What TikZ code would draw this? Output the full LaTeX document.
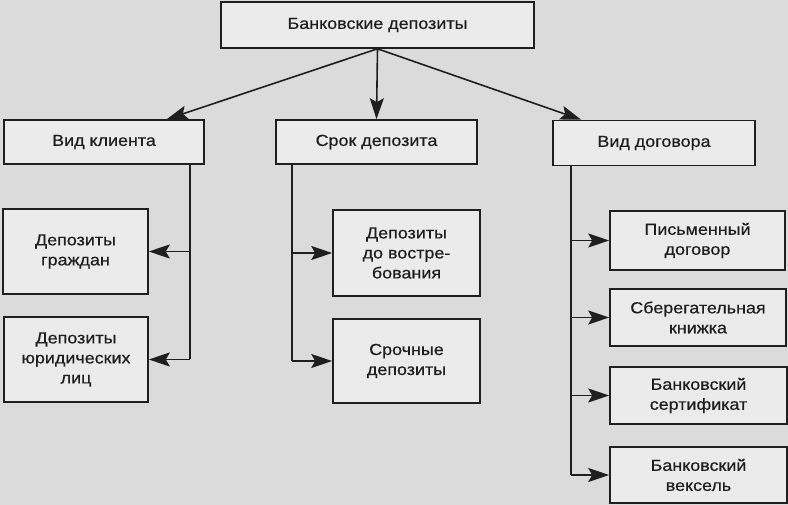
\documentclass[tikz,border=0pt]{standalone}
\usepackage{fontspec}
\setmainfont[FakeStretch=1.12,FakeBold=0.6]{Liberation Sans}
\usetikzlibrary{arrows.meta}
\definecolor{bg}{gray}{0.86}
\definecolor{boxfill}{gray}{0.92}
\definecolor{ink}{gray}{0.12}
\tikzset{
  box/.style={draw=ink, fill=boxfill, line width=1.6pt, inner sep=0pt, align=center,
    font=\fontsize{16pt}{20pt}\selectfont, text=ink},
  conn/.style={draw=ink, line width=1.6pt},
  arr/.style={conn, arrows={-Stealth[length=21pt,width=14pt,inset=4pt]}}
}
\begin{document}
\begin{tikzpicture}[x=1pt,y=-1pt]
\fill[bg] (0,0) rectangle (788,505);
\useasboundingbox (0,0) rectangle (788,505);
\node[box, minimum width=313, minimum height=46] (top) at (377.5,25) {Банковские депозиты};
\node[box, minimum width=200, minimum height=44] (kl) at (104,142) {Вид клиента};
\node[box, minimum width=201, minimum height=44] (srok) at (376.5,142) {Срок депозита};
\node[box, minimum width=202, minimum height=45] (dog) at (654,143) {Вид договора};
\node[box, minimum width=145, minimum height=85] (gr) at (75.5,251.5) {Депозиты\\граждан};
\node[box, minimum width=144, minimum height=85] (jur) at (76,359.5) {Депозиты\\юридических\\лиц};
\node[box, minimum width=147, minimum height=86] (vostr) at (406.5,253) {Депозиты\\до востре-\\бования};
\node[box, minimum width=147, minimum height=84] (sroch) at (406.5,361) {Срочные\\депозиты};
\node[box, minimum width=175, minimum height=59] (pism) at (697.5,240.5) {Письменный\\договор};
\node[box, minimum width=176, minimum height=57] (sber) at (698,317.5) {Сберегательная\\книжка};
\node[box, minimum width=177, minimum height=57] (sert) at (698.5,395.5) {Банковский\\сертификат};
\node[box, minimum width=177, minimum height=56] (veks) at (698.5,475) {Банковский\\вексель};
% top arrows
\draw[arr] (top.south) -- ([xshift=-38pt]kl.north east);
\draw[arr] (top.south) -- (srok.north);
\draw[arr] (top.south) -- ([xshift=29pt]dog.north west);
% left branch
\coordinate (lv) at (190,164);
\draw[conn] (lv) -- (lv |- jur.east);
\draw[arr] (lv |- gr.east) -- (gr.east);
\draw[arr] (lv |- jur.east) -- (jur.east);
% middle branch
\coordinate (mv) at (292,164);
\draw[conn] (mv) -- (mv |- sroch.west);
\draw[arr] (mv |- vostr.west) -- (vostr.west);
\draw[arr] (mv |- sroch.west) -- (sroch.west);
% right branch
\coordinate (rv) at (571,165.5);
\draw[conn] (rv) -- (rv |- veks.west);
\draw[arr] (rv |- pism.west) -- (pism.west);
\draw[arr] (rv |- sber.west) -- (sber.west);
\draw[arr] (rv |- sert.west) -- (sert.west);
\draw[arr] (rv |- veks.west) -- (veks.west);
\end{tikzpicture}
\end{document}
